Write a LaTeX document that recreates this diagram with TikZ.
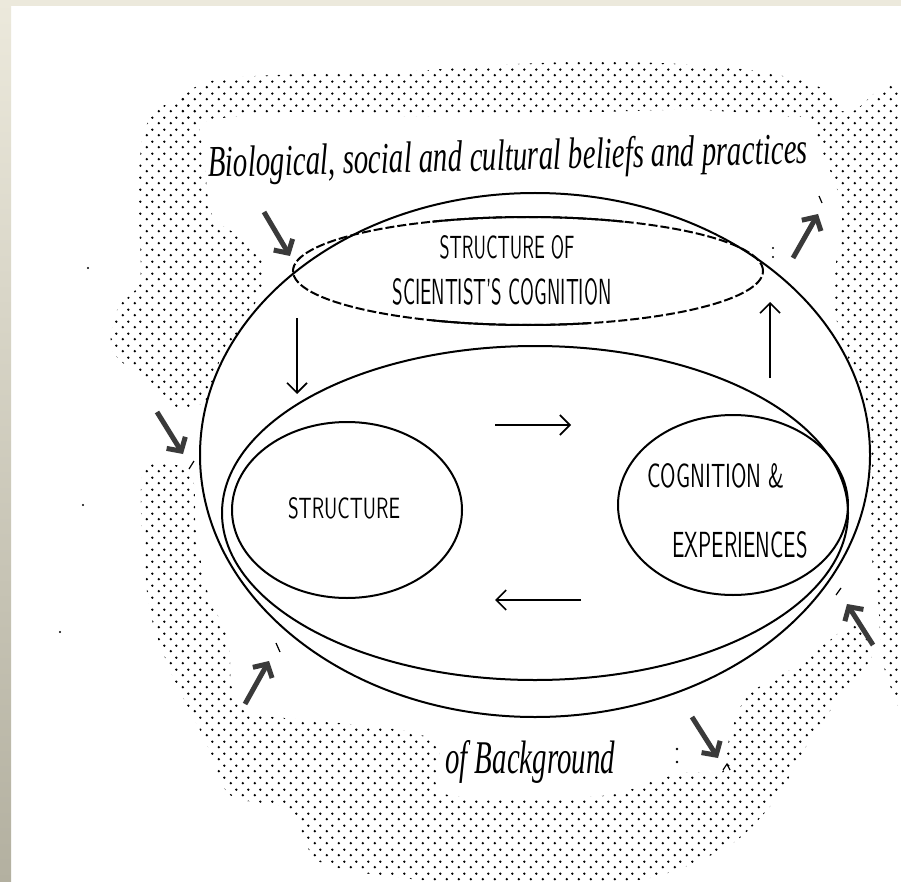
\documentclass[tikz,border=0pt]{standalone}
\usepackage{graphicx}
\usepackage{fontspec}
\newfontfamily\handserif{Liberation Serif}
\usetikzlibrary{shapes.geometric,arrows.meta,patterns.meta}

\definecolor{framebeige}{HTML}{ECE9DC}
\definecolor{framegray}{HTML}{B3B0A0}
\definecolor{arrowgray}{HTML}{3A3A3A}

\tikzdeclarepattern{
  name=stipple,
  type=uncolored,
  bounding box={(0pt,0pt) and (12pt,12pt)},
  tile size={(12pt,12pt)},
  code={
    \fill (3pt,3pt) circle (1.4pt);
    \fill (9pt,9pt) circle (1.4pt);
  }
}

\newcommand{\fitbox}[3]{\resizebox{#1pt}{#2pt}{#3}}

\tikzset{
  oval/.style={draw, ellipse, line width=2pt, inner sep=0pt},
  thinarrow/.style={line width=1.6pt, -{Straight Barb[length=10pt,width=20pt]}},
  boldarrow/.style={draw=arrowgray, line width=5pt, -{Straight Barb[length=10pt,width=22pt]}},
  stippled/.style={pattern=stipple, pattern color=black},
  caps/.style={inner sep=0pt, anchor=base, font=\sffamily},
  slanted/.style={inner sep=0pt, anchor=base west, font=\handserif\itshape},
  speck/.style={line width=1.2pt},
}

\begin{document}
\begin{tikzpicture}[x=1pt,y=-1pt]
    \useasboundingbox (0,0) rectangle (901,882);
    \fill[white] (0,0) rectangle (901,882);
    \fill[framebeige] (0,0) rectangle (901,6);
    \shade[top color=framebeige, bottom color=framegray] (0,0) rectangle (11,882);

    % stippled background
    \fill[stippled] plot[smooth cycle] coordinates {(178,100) (215,80) (300,74) (400,72) (480,66) (570,62) (660,63) (750,70) (815,85) (840,108) (800,117) (700,110) (600,112) (500,115) (400,116) (300,112) (230,117) (195,122)};
    \fill[stippled] plot[smooth cycle] coordinates {(143,135) (160,108) (190,100) (203,150) (212,215) (245,240) (265,272) (248,318) (220,360) (207,400) (175,408) (150,385) (112,350) (118,308) (140,280) (138,200)};
    \fill[stippled] plot[smooth cycle] coordinates {(143,473) (190,472) (196,530) (207,590) (228,640) (232,688) (252,713) (330,722) (400,730) (438,745) (440,792) (520,798) (610,795) (655,780) (690,772) (722,772) (730,735) (748,695) (790,670) (830,640) (858,622) (872,655) (845,690) (810,740) (775,800) (730,845) (650,878) (540,888) (420,880) (320,862) (290,810) (230,795) (205,740) (170,670) (148,600)};
    \fill[stippled] plot[smooth cycle] coordinates {(812,112) (850,112) (912,120) (912,680) (884,668) (878,600) (870,540) (872,470) (866,400) (843,345) (833,290) (842,210) (822,150)};

    % ellipses
    \node[oval, minimum width=670pt, minimum height=524pt] (outer) at (535,455) {};
    \node[oval, dash pattern=on 9pt off 3pt, minimum width=470pt, minimum height=108pt] (scog) at (528,271) {};
    \draw[line width=2pt] (scog.center) ++(246:235 and 54) arc[start angle=246, end angle=294, x radius=235, y radius=54];
    \draw[line width=2pt] (scog.center) ++(75:235 and 54) arc[start angle=75, end angle=114, x radius=235, y radius=54];
    \node[oval, minimum width=626pt, minimum height=334pt] (system) at (535,513) {};
    \node[oval, minimum width=230pt, minimum height=176pt] (struct) at (347,510) {};
    \node[oval, minimum width=230pt, minimum height=180pt] (cogn) at (733,505) {};

    % labels
    \node[slanted, rotate=1.3] (beliefs) at (208,177) {\fitbox{600}{31}{Biological, social and cultural beliefs and practices}};
    \node[slanted] (backgr) at (445,773) {\fitbox{170}{33}{of Background}};
    \node[caps] (scog1) at (507,259) {\fitbox{135}{23}{STRUCTURE OF}};
    \node[caps] (scog2) at (502,304) {\fitbox{219}{26}{SCIENTIST'S COGNITION}};
    \node[caps] (structlbl) at (344,518) {\fitbox{112}{21}{STRUCTURE}};
    \node[caps] (cogn1) at (716,487) {\fitbox{137}{24}{COGNITION \&}};
    \node[caps] (cogn2) at (740,557) {\fitbox{135}{26}{EXPERIENCES}};

    % inner arrows
    \coordinate (d1) at (297,318);
    \coordinate (d2) at (297,394);
    \coordinate (u1) at (770,378);
    \coordinate (u2) at (770,302);
    \coordinate (r1) at (495,425);
    \coordinate (r2) at (571,425);
    \coordinate (l1) at (581,600);
    \coordinate (l2) at (495,600);
    \draw[thinarrow] (d1) -- (d2);
    \draw[thinarrow] (u1) -- (u2);
    \draw[thinarrow] (r1) -- (r2);
    \draw[thinarrow] (l1) -- (l2);

    % outside arrows
    \coordinate (a1) at (264,212);
    \coordinate (b1) at (290,256);
    \coordinate (a2) at (793,258);
    \coordinate (b2) at (818,214);
    \coordinate (a3) at (157,412);
    \coordinate (b3) at (183,454);
    \coordinate (a4) at (245,704);
    \coordinate (b4) at (269,661);
    \coordinate (a5) at (692,717);
    \coordinate (b5) at (718,758);
    \coordinate (a6) at (873,645);
    \coordinate (b6) at (847,604);
    \foreach \i in {1,...,6}
        \draw[boldarrow] (a\i) -- (b\i);

    % specks
    \draw[speck] (819,196) -- (822,203);
    \draw[speck] (189,469) -- (194,461);
    \draw[speck] (276,643) -- (280,652);
    \draw[speck] (723,770) -- (727,764) -- (730,770);
    \draw[speck] (836,595) -- (841,588);
    \fill (677,749) circle (1.3);
    \fill (677,762) circle (1.3);
    \fill (773,248) circle (1.2);
    \fill (773,257) circle (1.2);
    \fill (88,268) circle (1.2);
    \fill (83,505) circle (1.2);
    \fill (60,632) circle (1.2);
\end{tikzpicture}
\end{document}
